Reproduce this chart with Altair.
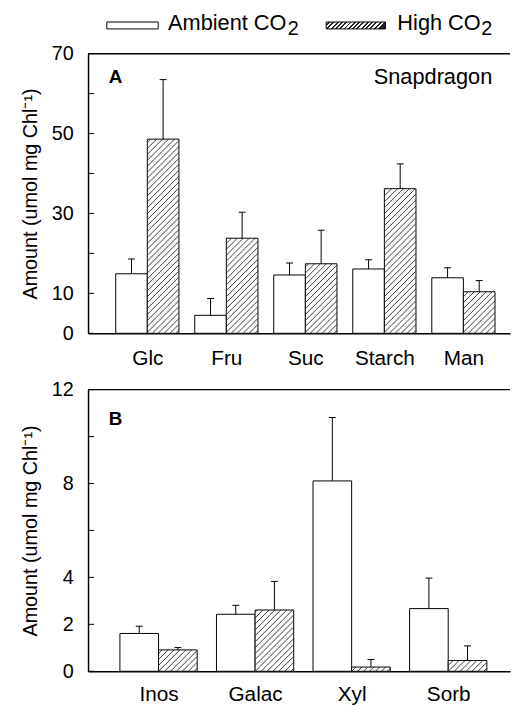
import json
import altair as alt
import pandas as pd

# ---------------- data ----------------
sugars_a = ["Glc", "Fru", "Suc", "Starch", "Man"]
ambient_a = [14.9, 4.5, 14.6, 16.1, 13.9]
ambient_a_err = [3.7, 4.2, 3.0, 2.3, 2.5]
high_a = [48.6, 23.8, 17.4, 36.2, 10.4]
high_a_err = [14.9, 6.5, 8.4, 6.2, 2.8]

sugars_b = ["Inos", "Galac", "Xyl", "Sorb"]
ambient_b = [1.61, 2.43, 8.11, 2.67]
ambient_b_err = [0.31, 0.38, 2.70, 1.30]
high_b = [0.91, 2.61, 0.18, 0.46]
high_b_err = [0.10, 1.22, 0.32, 0.62]

ticks_a = [0, 10, 20, 30, 40, 50, 60, 70]
labels_a = [0, 10, 30, 50, 70]
ticks_b = [0, 2, 4, 6, 8, 10, 12]
labels_b = [0, 2, 4, 8, 12]

legend_names = ["Ambient CO", "High CO"]
legend_sub = "2"
y_title = "Amount (umol mg Chl\u207b\u00b9)"

# ---------------- style ----------------
FONT = "Liberation Sans"
FS = 20
XFS = 21
LFS = 22
W = 427
BAR = 0.4


def hatch_rows(vals, sx, sy, step=6.0):
    rows = []
    for i, v in enumerate(vals):
        w = BAR * sx
        h = v * sy
        k = -w + step / 2
        while k < h:
            xa = max(0.0, -k)
            xb = min(w, h - k)
            if xb - xa > 0.4:
                rows.append(dict(hx=i + xa / sx, hy=(xa + k) / sy,
                                 hx2=i + xb / sx, hy2=(xb + k) / sy))
            k += step
    return pd.DataFrame(rows)


def text_layer(s, x, y, size=FS, align="left", weight="normal"):
    return alt.Chart(pd.DataFrame({"s": [s]})).mark_text(
        font=FONT, fontSize=size, fontWeight=weight, align=align,
        baseline="alphabetic", color="black").encode(
        text="s:N", x=alt.value(x), y=alt.value(y))


def panel(cats, amb, amb_err, high, high_err, xdom, ymax, H, ticks, labels,
          letter, letter_y, lab_pad, note=None, legend=False):
    rows = []
    for i, c in enumerate(cats):
        rows.append(dict(i=i, cat=c, grp="Ambient", v=amb[i], e=amb_err[i]))
        rows.append(dict(i=i, cat=c, grp="High", v=high[i], e=high_err[i]))
    df = pd.DataFrame(rows)
    sx = W / (xdom[1] - xdom[0])
    sy = H / ymax
    cap = 3.5 / sx

    xscale = alt.Scale(domain=xdom, nice=False, zero=False)
    yscale = alt.Scale(domain=[0, ymax], nice=False, zero=True)
    xaxis = alt.Axis(values=list(range(len(cats))),
                     labelExpr=json.dumps(cats) + "[datum.value]",
                     ticks=False, grid=False, title=None, domainColor="black",
                     domainWidth=1.5, labelFontSize=XFS, labelFont=FONT,
                     labelColor="black", labelPadding=lab_pad, labelFlush=False,
                     labelOverlap=False)
    yaxis = alt.Axis(values=labels, ticks=False, grid=False, title=y_title,
                     domainColor="black", domainWidth=1.5, labelFontSize=FS,
                     labelFont=FONT, labelColor="black", labelPadding=15,
                     titleFont=FONT, titleFontSize=FS, titleFontWeight="normal",
                     titleColor="black", titlePadding=11, labelFlush=False)

    def X(f):
        return alt.X(f, scale=xscale, axis=xaxis)

    def Y(f):
        return alt.Y(f, scale=yscale, axis=yaxis)

    base = alt.Chart(df).transform_calculate(
        x0="datum.i + (datum.grp == 'Ambient' ? -0.4 : 0)",
        x1="datum.i + (datum.grp == 'Ambient' ? 0 : 0.4)",
        xc="datum.i + (datum.grp == 'Ambient' ? -0.2 : 0.2)",
        xl="datum.i + (datum.grp == 'Ambient' ? -0.2 : 0.2) - %f" % cap,
        xr="datum.i + (datum.grp == 'Ambient' ? -0.2 : 0.2) + %f" % cap,
        top="datum.v + datum.e",
        zero="0",
    )
    bars = base.mark_rect(fill="white", stroke="black", strokeWidth=1).encode(
        x=X("x0:Q"), x2="x1:Q", y=Y("v:Q"), y2="zero:Q")
    hat = alt.Chart(hatch_rows(high, sx, sy)).mark_rule(
        color="#222", strokeWidth=0.9).encode(
        x=X("hx:Q"), x2="hx2:Q", y=Y("hy:Q"), y2="hy2:Q")
    err = base.mark_rule(color="black", strokeWidth=1).encode(
        x=X("xc:Q"), y=Y("v:Q"), y2="top:Q")
    caps = base.mark_rule(color="black", strokeWidth=1).encode(
        x=X("xl:Q"), x2="xr:Q", y=Y("top:Q"))
    tk = alt.Chart(pd.DataFrame({"t": ticks})).mark_rule(
        color="black", strokeWidth=1).encode(
        y=Y("t:Q"), x=alt.value(0), x2=alt.value(6))
    topline = alt.Chart(pd.DataFrame({"t": [ymax]})).mark_rule(
        color="black", strokeWidth=1.5).encode(y=Y("t:Q"))
    let = text_layer(letter, 21, letter_y, size=19, weight="bold")
    layers = [bars, hat, err, caps, tk, topline, let]
    if note:
        layers.append(text_layer(note, 409, 31, size=LFS, align="right"))
    if legend:
        layers.append(alt.Chart(pd.DataFrame({"s": [0]})).mark_rect(
            fill="white", stroke="black", strokeWidth=1).encode(
            x=alt.value(19), x2=alt.value(71), y=alt.value(-32), y2=alt.value(-25)))
        stops = []
        n = 14
        for j in range(n):
            a = j / n
            stops += [{"color": "white", "offset": a},
                      {"color": "white", "offset": a + 0.55 / n},
                      {"color": "#222", "offset": a + 0.55 / n},
                      {"color": "#222", "offset": (j + 1) / n}]
        grad = {"gradient": "linear", "x1": 0, "y1": 0, "x2": 1, "y2": 0.117,
                "stops": stops}
        layers.append(alt.Chart(pd.DataFrame({"s": [0]})).mark_rect(
            fill=grad, stroke="black", strokeWidth=1).encode(
            x=alt.value(241), x2=alt.value(301), y=alt.value(-32), y2=alt.value(-25)))
        layers.append(text_layer(legend_names[0], 81, -24, size=LFS))
        layers.append(text_layer(legend_sub, 81 + 121, -19, size=FS))
        layers.append(text_layer(legend_names[1], 313, -24, size=LFS))
        layers.append(text_layer(legend_sub, 313 + 85, -19, size=FS))
    return alt.layer(*layers).properties(width=W, height=H)


pa = panel(sugars_a, ambient_a, ambient_a_err, high_a, high_a_err,
           [-0.75, 4.59], 70, 283, ticks_a, labels_a, "A", 30, 15,
           note="Snapdragon", legend=True)
pb = panel(sugars_b, ambient_b, ambient_b_err, high_b, high_b_err,
           [-0.73, 3.64], 12, 285, ticks_b, labels_b, "B", 36, 13)

chart = alt.vconcat(pa, pb, spacing=11).properties(
    padding={"left": 12, "top": 0, "right": 0, "bottom": 0},
    background="white",
).configure_view(stroke=None)

chart.save("out.html", embed_options={"renderer": "svg", "actions": False})
